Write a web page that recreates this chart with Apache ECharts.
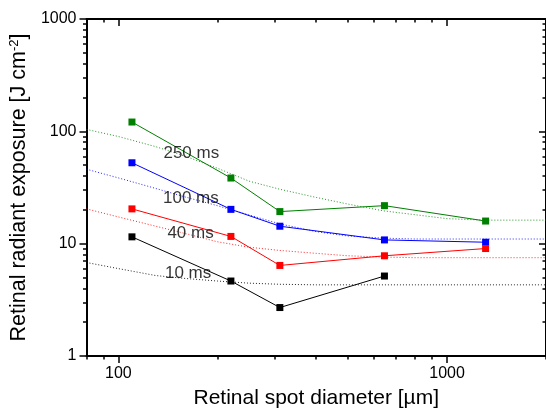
<!DOCTYPE html>
<html><head><meta charset="utf-8">
<script src="https://cdn.jsdelivr.net/npm/echarts@6/dist/echarts.min.js"></script>
<style>html,body{margin:0;padding:0;background:#fff}#c{width:546px;height:414px}</style>
</head><body><div id="c"></div>
<script>
const spotDiameter = [110, 220, 310, 645, 1310];
const exposure250 = [121, 38.4, 19.3, 21.8, 15.9];
const exposure100 = [52.5, 20.2, 14.3, 10.8, 10.3];
const exposure40 = [20.4, 11.6, 6.4, 7.8, 9.05];
const exposure10 = [11.5, 4.65, 2.7, 5.15];
const fitDiameter = [80, 100, 130, 160, 200, 250, 310, 400, 500, 640, 800, 1000, 1300, 1600, 2000];
const fit250 = [104, 90, 73, 60, 47, 36, 30.5, 25.8, 22.5, 19.6, 18.1, 16.7, 16.2, 16.2, 16.2];
const fit100 = [46, 38.5, 31, 26, 21.8, 18, 15, 12.8, 11.7, 11.2, 11.0, 11.0, 11.0, 11.0, 11.0];
const fit40 = [20.4, 17.3, 14.3, 12.3, 10.4, 9.3, 8.7, 8.2, 7.8, 7.6, 7.5, 7.5, 7.5, 7.5, 7.5];
const fit10 = [6.8, 6.0, 5.2, 4.9, 4.65, 4.45, 4.35, 4.3, 4.3, 4.3, 4.3, 4.3, 4.3, 4.3, 4.3];
const labelText = ['250 ms', '100 ms', '40 ms', '10 ms'];
const labelDiameter = [166.7, 166.2, 165.8, 163];
const labelExposure = [63.3, 25.4, 12.4, 5.48];
const xMajorTicks = [100, 1000];
const xMinorTicks = [80, 90, 200, 300, 400, 500, 600, 700, 800, 900, 2000];
const yMajorTicks = [1, 10, 100, 1000];
const yMinorTicks = [2, 3, 4, 5, 6, 7, 8, 9, 20, 30, 40, 50, 60, 70, 80, 90, 200, 300, 400, 500, 600, 700, 800, 900];

const FONT = 'Liberation Sans, Arial, sans-serif';
const pairs = (xs, ys) => ys.map((y, i) => [xs[i], y]);
const plain = v => String(Math.round(v));

function xAx(pos, ticks, len, inside, showLine, showLabel) {
  return {
    type: 'log', position: pos, min: 80, max: 2000,
    axisLine: { show: showLine, lineStyle: { color: '#000', width: 2 } },
    axisTick: { show: true, inside: inside, length: len, customValues: ticks, lineStyle: { color: '#000', width: 1.5 } },
    axisLabel: { show: showLabel, customValues: xMajorTicks, formatter: plain, margin: 10, color: '#000', fontSize: 16, fontFamily: FONT },
    splitLine: { show: false }, minorTick: { show: false }
  };
}
function yAx(pos, ticks, len, inside, showLine, showLabel) {
  return {
    type: 'log', position: pos, min: 1, max: 1000,
    axisLine: { show: showLine, lineStyle: { color: '#000', width: 2 } },
    axisTick: { show: true, inside: inside, length: len, customValues: ticks, lineStyle: { color: '#000', width: 1.5 } },
    axisLabel: { show: showLabel, customValues: yMajorTicks, formatter: plain, margin: 10, color: '#000', fontSize: 16, fontFamily: FONT },
    splitLine: { show: false }, minorTick: { show: false }
  };
}

const xAxes = [
  xAx('bottom', xMajorTicks, 7, false, true, true),
  xAx('bottom', xMinorTicks, 3.5, false, false, false),
  xAx('top', xMajorTicks, 7, true, true, false),
  xAx('top', xMinorTicks, 3.5, true, false, false)
];
Object.assign(xAxes[0], {
  name: 'Retinal spot diameter [µm]', nameLocation: 'middle', nameGap: 32,
  nameTextStyle: { fontSize: 21, color: '#000', fontFamily: FONT }
});
const yAxes = [
  yAx('left', yMajorTicks, 7, false, true, true),
  yAx('left', yMinorTicks, 3.5, false, false, false),
  yAx('right', yMajorTicks, 7, true, true, false),
  yAx('right', yMinorTicks, 3.5, true, false, false)
];
Object.assign(yAxes[0], {
  name: 'Retinal radiant exposure [J cm{sup|-2}]', nameLocation: 'middle', nameGap: 52,
  nameTextStyle: { fontSize: 21.5, color: '#000', fontFamily: FONT,
    rich: { sup: { fontSize: 13, color: '#000', fontFamily: FONT, verticalAlign: 'top', padding: [0, 0, 8, 0] } } }
});

const colors = ['#008000', '#0000ff', '#ff0000', '#000000'];
const fits = [fit250, fit100, fit40, fit10];
const meas = [exposure250, exposure100, exposure40, exposure10];

const series = [];
fits.forEach((f, i) => series.push({
  type: 'line', data: pairs(fitDiameter, f), symbol: 'none', silent: true, z: 1,
  lineStyle: { color: colors[i], width: 1, type: [1, 2], opacity: 0.85 }
}));
meas.forEach((m, i) => series.push({
  type: 'line', data: pairs(spotDiameter, m), symbol: 'rect', symbolSize: 7, z: 3,
  lineStyle: { color: colors[i], width: 1 }, itemStyle: { color: colors[i] }
}));
series.push({
  type: 'scatter', symbolSize: 0, z: 5, silent: true,
  data: labelText.map((t, i) => ({ name: t, value: [labelDiameter[i], labelExposure[i]] })),
  label: { show: true, position: 'inside', formatter: '{b}', color: '#000', fontSize: 17, fontFamily: FONT }
});

const chart = echarts.init(document.getElementById('c'), null, { renderer: 'canvas' });
chart.setOption({
  animation: false,
  backgroundColor: '#fff',
  grid: { left: 86, right: 0, top: 19, bottom: 56, containLabel: false },
  xAxis: xAxes,
  yAxis: yAxes,
  series: series
});
</script>
</body></html>
